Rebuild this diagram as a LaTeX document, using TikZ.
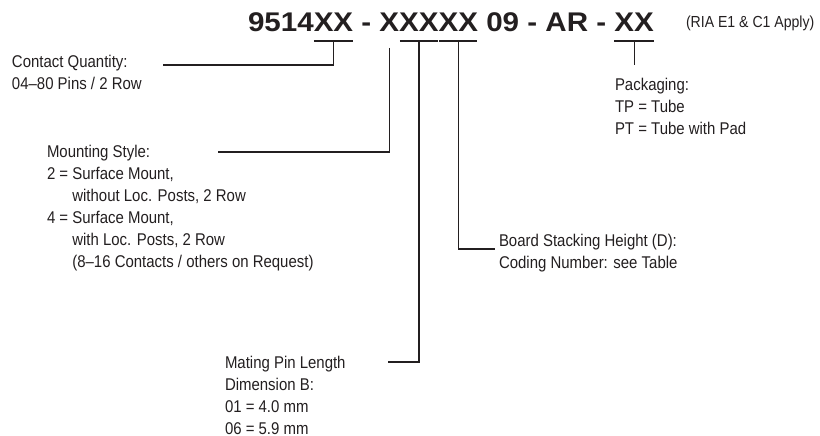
\documentclass[tikz,border=0pt]{standalone}
\usepackage{fontspec}
\setmainfont{Liberation Sans}[FakeStretch=0.88]
\newfontfamily\titlefont{Liberation Sans}[FakeStretch=1.095]
\definecolor{ink}{RGB}{35,31,32}
\begin{document}
\begin{tikzpicture}[x=1pt,y=1pt,
  ttl/.style={inner sep=0pt, outer sep=0pt, anchor=base west, text=ink,
    font=\titlefont\bfseries\fontsize{27}{30}\selectfont},
  desc/.style={inner sep=0pt, outer sep=0pt, anchor=base west, align=left, text=ink,
    font=\fontsize{17}{22}\selectfont},
  note/.style={inner sep=0pt, outer sep=0pt, anchor=base west, text=ink,
    font=\fontsize{16}{20}\selectfont},
  leader/.style={draw=ink, line width=1.2pt},
  uline/.style={draw=ink, line width=1.2pt}]
\useasboundingbox (0,0) rectangle (820,-436);
% title code pieces
\node[ttl] (t1) at (248,-32) {9514};
\node[ttl] (cqx) at (t1.base east) {XX};
\node[ttl] (t2) at (cqx.base east) {\mbox{}\ -\ \mbox{}};
\node[ttl] (msx) at (t2.base east) {X};
\node[ttl] (mpx) at (msx.base east) {XX};
\node[ttl] (bsx) at (mpx.base east) {XX};
\node[ttl] (t3) at (bsx.base east) {\mbox{}\ 09\ -\ AR\ -\ \mbox{}};
\node[ttl] (pkx) at (t3.base east) {XX};
\node[note] (ria) at (686,-28) {(RIA E1 \& C1 Apply)};
% underlines
\draw[uline] ([yshift=-9pt]cqx.base west) -- ([yshift=-9pt]cqx.base east);
\draw[uline] ([yshift=-9pt,xshift=0.6pt]mpx.base west) -- ([yshift=-9pt,xshift=-0.6pt]mpx.base east);
\draw[uline] ([yshift=-9pt,xshift=0.6pt]bsx.base west) -- ([yshift=-9pt,xshift=-0.6pt]bsx.base east);
\draw[uline] ([yshift=-9pt]pkx.base west) -- ([yshift=-9pt]pkx.base east);
% descriptions (anchored at the baseline of their last line)
\node[desc] (cq) at (12,-89) {Contact Quantity:\\04–80 Pins / 2 Row};
\node[desc] (ms) at (47,-267) {Mounting Style:\\2 = Surface Mount,\\\phantom{2 = }without Loc. Posts, 2 Row\\4 = Surface Mount,\\\phantom{4 = }with Loc. Posts, 2 Row\\\phantom{4 = }(8–16 Contacts / others on Request)};
\node[desc] (bs) at (499,-268) {Board Stacking Height (D):\\Coding Number: see Table};
\node[desc] (mp) at (225,-434) {Mating Pin Length\\Dimension B:\\01 = 4.0 mm\\06 = 5.9 mm};
\node[desc] (pk) at (615,-135) {Packaging:\\TP = Tube\\PT = Tube with Pad};
% leader end points
\coordinate (cqend) at (163,-65);
\coordinate (msend) at (218,-152);
\coordinate (mpend) at (388,-362);
\coordinate (bsend) at (495,-249);
\coordinate (pkend) at (634,-65);
% leaders
\draw[leader] ([yshift=-9pt]cqx.base) |- (cqend);
\draw[leader] ([yshift=-16pt]msx.base) |- (msend);
\draw[leader] ([yshift=-9pt]mpx.base) |- (mpend);
\draw[leader] ([yshift=-9pt]bsx.base) |- (bsend);
\draw[leader] ([yshift=-9pt]pkx.base) -- (pkx.base |- pkend);
\end{tikzpicture}
\end{document}
